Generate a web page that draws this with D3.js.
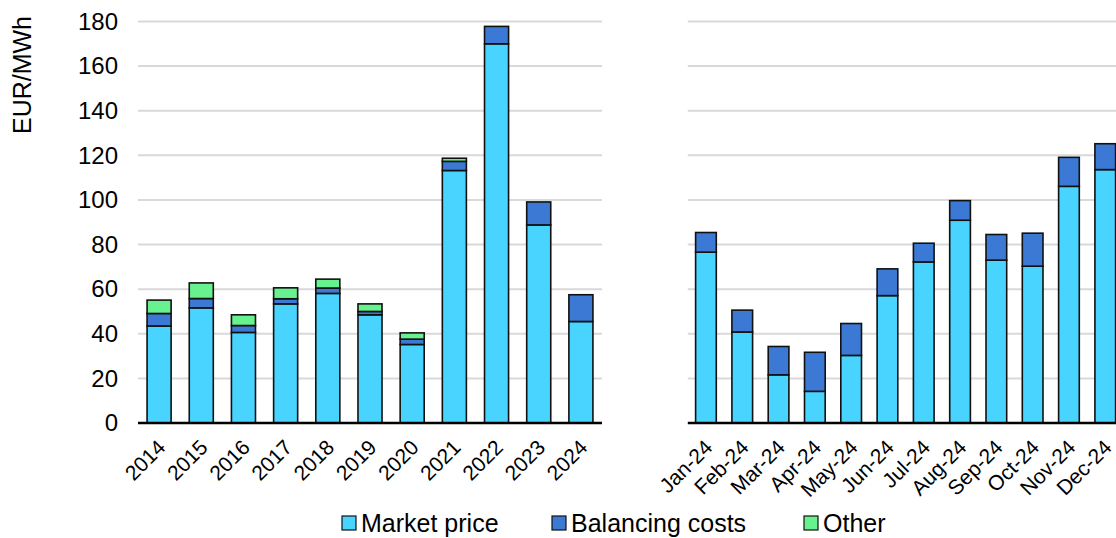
<!DOCTYPE html>
<html>
<head>
<meta charset="utf-8">
<script src="https://cdn.jsdelivr.net/npm/d3@7"></script>
<style>
  html, body { margin: 0; padding: 0; background: #fff; }
  svg { display: block; font-family: "Liberation Sans", Arial, sans-serif; }
</style>
</head>
<body>
<svg id="chart" width="1116" height="538"></svg>
<script>
// ---- Data ----
const years = ["2014","2015","2016","2017","2018","2019","2020","2021","2022","2023","2024"];
const yearMarket    = [43.5, 51.6, 40.6, 53.4, 58.1, 48.5, 35.2, 113.2, 170.0, 88.8, 45.5];
const yearBalancing = [ 5.6,  4.2,  3.1,  2.3,  2.4,  1.5,  2.4,   4.1,   7.8, 10.3, 12.0];
const yearOther     = [ 6.0,  7.0,  4.8,  4.9,  4.0,  3.4,  2.8,   1.4,   0.0,  0.0,  0.0];

const months = ["Jan-24","Feb-24","Mar-24","Apr-24","May-24","Jun-24","Jul-24","Aug-24","Sep-24","Oct-24","Nov-24","Dec-24"];
const monthMarket    = [76.6, 40.8, 21.6, 14.2, 30.3, 57.1, 72.2, 90.9, 73.0, 70.3, 106.1, 113.6];
const monthBalancing = [ 8.8,  9.8, 12.7, 17.5, 14.3, 12.0,  8.4,  8.8, 11.5, 14.8,  13.0,  11.6];
const monthOther     = [ 0,    0,    0,    0,    0,    0,    0,    0,    0,    0,     0,     0  ];

const seriesNames = ["Market price", "Balancing costs", "Other"];
const yTicks = [0, 20, 40, 60, 80, 100, 120, 140, 160, 180];
const yLabel = "EUR/MWh";

// ---- Style ----
const colors = ["#48D4FF", "#3B79D4", "#67F28F"];
const keys = ["market", "balancing", "other"];

const svg = d3.select("#chart");
const y = d3.scaleLinear().domain([0, 180]).range([423, 21.5]);

function buildRows(cats, m, b, o) {
  return cats.map((c, i) => ({ cat: c, market: m[i], balancing: b[i], other: o[i] }));
}

function drawPanel(cats, rows, x0, x1, tickSize) {
  const x = d3.scaleBand().domain(cats).range([x0, x1]).paddingInner(0.43).paddingOuter(0.215);
  const g = svg.append("g");
  // gridlines
  g.selectAll("line.grid").data(yTicks.filter(t => t > 0)).join("line")
    .attr("x1", x0).attr("x2", x1)
    .attr("y1", d => y(d)).attr("y2", d => y(d))
    .attr("stroke", "#d9d9d9").attr("stroke-width", 2);

  const stack = d3.stack().keys(keys)(rows);
  stack.forEach((layer, li) => {
    g.append("g").selectAll("rect").data(layer.filter(d => d[1] - d[0] > 0)).join("rect")
      .attr("x", d => x(d.data.cat))
      .attr("width", x.bandwidth())
      .attr("y", d => y(d[1]))
      .attr("height", d => y(d[0]) - y(d[1]))
      .attr("fill", colors[li])
      .attr("stroke", "#111")
      .attr("stroke-width", 1.6);
  });

  // baseline axis
  g.append("line").attr("x1", x0).attr("x2", x1)
    .attr("y1", y(0)).attr("y2", y(0))
    .attr("stroke", "#000").attr("stroke-width", 2.5);

  // x labels
  const xAxis = d3.axisBottom(x).tickSize(0).tickPadding(0);
  const ax = g.append("g").attr("transform", `translate(0,${y(0)})`).call(xAxis);
  ax.select(".domain").remove();
  ax.selectAll("text")
    .attr("font-size", tickSize)
    .attr("fill", "#000")
    .attr("text-anchor", "end")
    .attr("dy", null)
    .attr("y", 0)
    .attr("dominant-baseline", "hanging")
    .attr("transform", "translate(-3,15) rotate(-45)");
}

drawPanel(years, buildRows(years, yearMarket, yearBalancing, yearOther), 138, 602, 21);
drawPanel(months, buildRows(months, monthMarket, monthBalancing, monthOther), 687.8, 1123.4, 21);

// y axis labels
const yAxis = d3.axisLeft(y).tickValues(yTicks).tickSize(0).tickPadding(0);
const yg = svg.append("g").attr("transform", "translate(118,0)").call(yAxis);
yg.select(".domain").remove();
yg.selectAll("text").attr("font-size", 24).attr("fill", "#000").attr("font-family", "Liberation Sans, Arial, sans-serif");

svg.append("text")
  .attr("transform", "translate(31,75) rotate(-90)")
  .attr("text-anchor", "middle")
  .attr("font-size", 25)
  .attr("fill", "#000")
  .text(yLabel);

// legend
const legendX = [342, 552, 804];
const lg = svg.append("g");
seriesNames.forEach((name, i) => {
  const item = lg.append("g").attr("transform", `translate(${legendX[i]},0)`);
  item.append("rect").attr("x", 0).attr("y", 516).attr("width", 14).attr("height", 14)
    .attr("fill", colors[i]).attr("stroke", "#111").attr("stroke-width", 1.2);
  item.append("text").attr("x", 19).attr("y", 532)
    .attr("font-size", 25).attr("fill", "#000").text(name);
});
</script>
</body>
</html>
